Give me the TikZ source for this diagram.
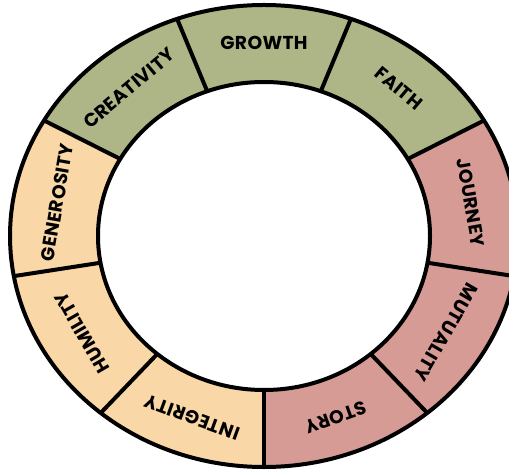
\documentclass[tikz,border=0pt]{standalone}
\usepackage{fontspec}
\newfontfamily\ringfont[LetterSpace=2]{Poppins}
\usetikzlibrary{calc}
\definecolor{greenseg}{RGB}{174,181,135}
\definecolor{pinkseg}{RGB}{215,155,149}
\definecolor{peachseg}{RGB}{250,215,166}

\begin{document}
\begin{tikzpicture}[x=0.75pt,y=0.75pt,yscale=-1,xscale=1,
  lbl/.style={font=\ringfont\bfseries\fontsize{14}{16}\selectfont,inner sep=0.75pt},
  ring/.style={line width=3}]
\useasboundingbox (0,0) rectangle (509,473);
\clip (0,0) rectangle (509,473);
\coordinate (c) at (264,236);

% segments and labels
\foreach \a/\col/\lbl/\nm in {270/pinkseg/STORY/story,310/pinkseg/MUTUALITY/mutuality,350/pinkseg/JOURNEY/journey,
  390/greenseg/FAITH/faith,430/greenseg/GROWTH/growth,470/greenseg/CREATIVITY/creativity,
  510/peachseg/GENEROSITY/generosity,550/peachseg/HUMILITY/humility,590/peachseg/INTEGRITY/integrity}{
  \fill[\col] ($(c)+({-\a}:254 and 231)$) arc[start angle=-\a, end angle=-\a-40, x radius=254, y radius=231]
    -- ($(c)+({-\a-40}:166 and 154)$) arc[start angle=-\a-40, end angle=-\a, x radius=166, y radius=154] -- cycle;
  \node[lbl, rotate=\a-70] (\nm) at ($(c)+({-\a-20}:210 and 193)$) {\lbl};
}

% outlines
\draw[ring] (c) ellipse [x radius=254, y radius=231];
\draw[ring] (c) ellipse [x radius=166, y radius=154];
\foreach \a in {270,310,...,590}
  \draw[ring] ($(c)+({-\a}:166 and 154)$) -- ($(c)+({-\a}:254 and 231)$);

\end{tikzpicture}
\end{document}
